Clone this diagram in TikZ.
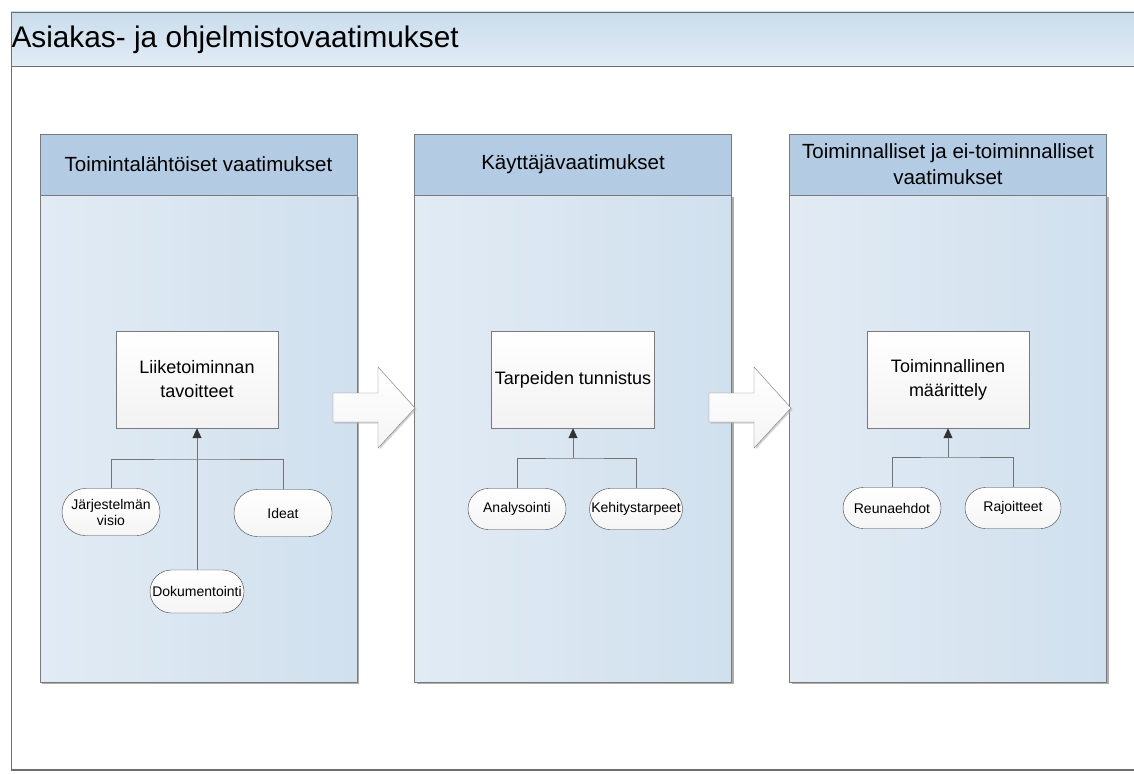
\documentclass[tikz,border=0pt]{standalone}
\usepackage{fontspec}
\setmainfont{Liberation Sans}
\usetikzlibrary{shapes.misc,arrows.meta,shadows}

\definecolor{framegray}{HTML}{6E6E6E}
\definecolor{bandtop}{HTML}{C9DCEC}
\definecolor{bandbot}{HTML}{E2ECF5}
\definecolor{headblue}{HTML}{B4CCE3}
\definecolor{bodyleft}{HTML}{E2EBF4}
\definecolor{bodyright}{HTML}{D0E0EE}
\definecolor{boxgray}{HTML}{7A7A7A}

\tikzset{
	colhead/.style={draw=boxgray, fill=headblue, minimum width=317pt, minimum height=61pt, align=center, font=\fontsize{20.5}{26}\selectfont},
	colbody/.style={draw=boxgray, left color=bodyleft, right color=bodyright, drop shadow={shadow xshift=2pt, shadow yshift=-2pt, fill=black!45, opacity=.7}},
	goalbox/.style={draw=boxgray, top color=white, bottom color=black!5, minimum width=162pt, minimum height=97pt, align=center, font=\fontsize{18}{24}\selectfont},
	pill/.style={rounded rectangle, draw=black!75, top color=white, bottom color=black!4, minimum width=102pt, minimum height=41pt, inner xsep=2pt, align=center, font=\fontsize{14}{16}\selectfont},
	bigarrow/.style={draw=boxgray, top color=white, bottom color=black!4, drop shadow={shadow xshift=1.5pt, shadow yshift=-1.5pt, fill=black!30, opacity=.6}},
	link/.style={draw=black!55, line width=0.9pt},
	uparrow/.style={link, -{Triangle[length=10pt,width=9pt,color=black!80]}}
}

\begin{document}
\begin{tikzpicture}[x=1pt,y=-1pt]
	\useasboundingbox (0,0) rectangle (1134,773);

	% kehys ja otsikko
	\fill[top color=bandtop, bottom color=bandbot] (11,12) rectangle (1134,66);
	\draw[framegray] (1134,12) -- (11,12) -- (11,770);
	\draw[framegray] (11,66) -- (1134,66);
	\draw[framegray, line width=1.2pt] (11,770) -- (1134,770);
	\node[anchor=west, font=\fontsize{29.8}{36}\selectfont] (title) at (8,40) {Asiakas- ja ohjelmistovaatimukset};

	% sarakkeet
	\foreach \cx in {198.5, 573, 948}
		\path[colbody] (\cx-158.5,195) rectangle (\cx+158.5,682);
	\node[colhead] (head1) at (198.5,164.5) {Toimintalähtöiset vaatimukset};
	\node[colhead] (head2) at (573,164.5) {Käyttäjävaatimukset};
	\node[colhead] (head3) at (948,164.5) {Toiminnalliset ja ei-toiminnalliset\\vaatimukset};

	% isot nuolet
	\foreach \dx in {0, 376}
		\path[bigarrow] (333+\dx,393) -- (378+\dx,393) -- (378+\dx,367) -- (415+\dx,408)
			-- (378+\dx,448) -- (378+\dx,422) -- (333+\dx,422) -- cycle;

	% laatikot
	\node[goalbox] (tav) at (197,379.5) {Liiketoiminnan\\tavoitteet};
	\node[goalbox] (tarp) at (573,379.5) {Tarpeiden tunnistus};
	\node[goalbox] (maar) at (948,379.5) {Toiminnallinen\\määrittely};

	\begin{scope}[every node/.append style={pill}]
		\node[minimum height=47pt] (jv) at (111,512) {Järjestelmän\\visio};
		\node[minimum height=47pt] (ideat) at (283,513) {Ideat};
		\node[minimum height=43pt, minimum width=98pt] (dok) at (197,591.5) {Dokumentointi};
		\node (ana) at (517,509) {Analysointi};
		\node[minimum width=97pt] (keh) at (636,509) {Kehitystarpeet};
		\node (reuna) at (892,508) {Reunaehdot};
		\node[minimum width=100pt] (raj) at (1013,508) {Rajoitteet};
	\end{scope}

	\coordinate (bar1) at (197,459);
	\coordinate (bar2) at (573,458);
	\coordinate (bar3) at (948,457);

	\draw[link] (jv.north) |- (bar1) -| (ideat.north);
	\draw[uparrow] (dok.north) -- (tav.south);
	\draw[link] (ana.north) |- (bar2) -| (keh.north);
	\draw[uparrow] (bar2) -- (tarp.south);
	\draw[link] (reuna.north) |- (bar3) -| (raj.north);
	\draw[uparrow] (bar3) -- (maar.south);
\end{tikzpicture}
\end{document}
